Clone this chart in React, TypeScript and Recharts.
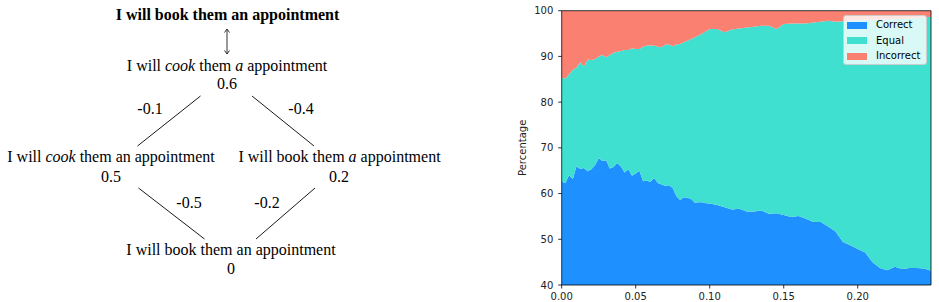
import React from 'react';
import { AreaChart, Area, XAxis, YAxis, ReferenceLine, Legend } from 'recharts';

// ---- chart data ----
const xValues = [
  0, 0.0025, 0.005, 0.0075, 0.01, 0.0125, 0.015, 0.0175, 0.02, 0.0225,
  0.025, 0.0275, 0.03, 0.0325, 0.035, 0.0375, 0.04, 0.0425, 0.045, 0.0475,
  0.05, 0.0525, 0.055, 0.0575, 0.06, 0.0625, 0.065, 0.0675, 0.07, 0.0725,
  0.075, 0.0775, 0.08, 0.0825, 0.085, 0.0875, 0.09, 0.0925, 0.095, 0.0975,
  0.1, 0.105, 0.11, 0.115, 0.12, 0.125, 0.13, 0.135, 0.14, 0.145,
  0.15, 0.155, 0.16, 0.165, 0.17, 0.175, 0.18, 0.185, 0.19, 0.195,
  0.2, 0.205, 0.21, 0.215, 0.22, 0.225, 0.23, 0.235, 0.24, 0.245, 0.2495,
];

// share of "Correct" (%)
const correctValues = [
  62.6, 62.3, 64.0, 63.2, 66.0, 65.4, 65.6, 64.9, 65.3, 66.2,
  67.7, 67.1, 67.3, 65.5, 65.8, 66.7, 65.9, 64.6, 65.3, 63.9,
  64.4, 65.0, 62.7, 62.8, 62.6, 63.4, 62.3, 62.0, 61.7, 61.8,
  61.2, 59.4, 58.6, 59.2, 59.1, 58.8, 58.0, 58.1, 58.1, 57.9,
  57.8, 57.5, 57.0, 56.5, 56.7, 56.1, 56.1, 56.3, 55.6, 55.7,
  55.3, 54.9, 55.1, 54.5, 53.8, 53.8, 52.8, 51.7, 49.4, 48.7,
  47.9, 47.1, 45.0, 43.7, 43.2, 44.0, 43.5, 43.7, 43.7, 43.6, 43.1,
];

// "Correct" + "Equal" (%)
const correctOrEqualValues = [
  85.4, 85.1, 86.1, 87.1, 87.6, 88.7, 87.8, 89.3, 89.2, 89.4,
  90.0, 90.3, 89.8, 90.3, 90.8, 91.0, 91.2, 91.4, 91.4, 91.8,
  91.6, 91.6, 92.1, 92.4, 92.4, 92.4, 92.1, 92.0, 92.6, 92.6,
  92.2, 92.6, 92.7, 93.1, 93.4, 93.8, 94.2, 94.6, 95.0, 95.5,
  96.0, 96.0, 95.3, 95.9, 96.1, 96.3, 96.5, 96.7, 96.7, 96.0,
  97.1, 97.2, 97.2, 97.2, 97.4, 97.6, 97.8, 97.6, 97.7, 97.8,
  97.9, 98.0, 98.0, 98.1, 98.1, 98.2, 98.2, 98.3, 98.4, 98.5, 98.7,
];

const seriesNames = ['Correct', 'Equal', 'Incorrect'];
const seriesKeys = ['correct', 'equal', 'incorrect'];
const seriesColors = ['#1E90FF', '#40E0D0', '#FA8072'];

const xTicks = [0, 0.05, 0.1, 0.15, 0.2];
const yTicks = [40, 50, 60, 70, 80, 90, 100];

// ---- diagram data ----
const topSentence = 'I will book them an appointment';
// [text, italic] segments
const midSentence: [string, boolean][] = [
  ['I will ', false], ['cook', true], [' them ', false], ['a', true], [' appointment', false],
];
const leftSentence: [string, boolean][] = [
  ['I will ', false], ['cook', true], [' them an appointment', false],
];
const rightSentence: [string, boolean][] = [
  ['I will book them ', false], ['a', true], [' appointment', false],
];
const bottomSentence: [string, boolean][] = [['I will book them an appointment', false]];
const nodeScores = ['0.6', '0.5', '0.2', '0'];
const edgeDeltas = ['-0.1', '-0.4', '-0.5', '-0.2'];

const data = xValues.map((x, i) => ({
  x,
  correct: correctValues[i],
  equal: +(correctOrEqualValues[i] - correctValues[i]).toFixed(2),
  incorrect: +(100 - correctOrEqualValues[i]).toFixed(2),
}));

const serif = '"Liberation Serif", "Times New Roman", serif';
const sans = '"DejaVu Sans", sans-serif';

const Sentence = ({ parts, x, y }: { parts: [string, boolean][]; x: number; y: number }) => (
  <text x={x} y={y} textAnchor="middle" fontFamily={serif} fontSize={16} fill="#000" style={{ whiteSpace: 'pre' }}>
    {parts.map(([t, it], i) => (
      <tspan key={i} fontStyle={it ? 'italic' : 'normal'}>{t}</tspan>
    ))}
  </text>
);

const Label = ({ text, x, y }: { text: string; x: number; y: number }) => (
  <text x={x} y={y} textAnchor="middle" fontFamily={serif} fontSize={16} fill="#000">
    {text}
  </text>
);

const Diagram = () => (
  <svg width={480} height={302} style={{ position: 'absolute', left: 0, top: 0 }}>
    <text x={227.5} y={19.5} textAnchor="middle" fontFamily={serif} fontSize={16} fontWeight="bold" fill="#000">
      {topSentence}
    </text>
    {/* double arrow */}
    <g stroke="#333" strokeWidth={1} fill="none">
      <line x1={227} y1={29} x2={227} y2={54} />
      <polyline points="224.5,32.5 227,29 229.5,32.5" />
      <polyline points="224.5,50.5 227,54 229.5,50.5" />
    </g>
    <Sentence parts={midSentence} x={227} y={71} />
    <Label text={nodeScores[0]} x={227} y={89.3} />
    <Label text={edgeDeltas[0]} x={150} y={114.3} />
    <Label text={edgeDeltas[1]} x={301} y={114.3} />
    <g stroke="#000" strokeWidth={0.9}>
      <line x1={200.5} y1={96} x2={137.5} y2={146} />
      <line x1={252} y1={96} x2={314} y2={146} />
      <line x1={138.5} y1={188} x2={204.5} y2={239} />
      <line x1={315} y1={188} x2={256} y2={239} />
    </g>
    <Sentence parts={leftSentence} x={111} y={162.3} />
    <Label text={nodeScores[1]} x={111} y={181.7} />
    <Sentence parts={rightSentence} x={339.5} y={162.3} />
    <Label text={nodeScores[2]} x={339} y={181.7} />
    <Label text={edgeDeltas[2]} x={189} y={207.7} />
    <Label text={edgeDeltas[3]} x={267} y={207.7} />
    <Sentence parts={bottomSentence} x={231} y={255} />
    <Label text={nodeScores[3]} x={231} y={274} />
  </svg>
);

const renderLegend = () => (
  <div
    style={{
      position: 'relative',
      width: 84,
      height: 50,
      boxSizing: 'border-box',
      border: '1px solid #cccccc',
      borderRadius: 3,
      background: 'rgba(255,255,255,0.8)',
      fontFamily: sans,
      fontSize: 10,
      color: '#000',
    }}
  >
    {seriesNames.map((name, i) => (
      <div key={name} style={{ position: 'absolute', left: 0, top: 9 + i * 15.5 - 7, height: 14, width: 84 }}>
        <div style={{ position: 'absolute', left: 3, top: 3.5, width: 20, height: 7, background: seriesColors[i] }} />
        <div style={{ position: 'absolute', left: 32, top: 0, lineHeight: '14px', whiteSpace: 'nowrap' }}>{name}</div>
      </div>
    ))}
  </div>
);

const YLabel = (props: any) => {
  const vb = props.viewBox || { x: 0, y: 0, width: 0, height: 0 };
  const cx = vb.x + 23;
  const cy = vb.y + vb.height / 2;
  return (
    <text x={cx} y={cy} textAnchor="middle" dominantBaseline="central" transform={`rotate(-90, ${cx}, ${cy})`}
      fontFamily={sans} fontSize={10} fill="#222">
      Percentage
    </text>
  );
};

const xMax = xValues[xValues.length - 1];

export default function App() {
  return (
    <div style={{ position: 'absolute', left: 0, top: 0, width: 939, height: 302, background: '#fff' }}>
      <Diagram />
      <div style={{ position: 'absolute', left: 500, top: 0 }}>
        <AreaChart width={439} height={302} data={data} margin={{ top: 10.7, right: 8, left: 0, bottom: 0 }}>
          {seriesKeys.map((k, i) => (
            <Area
              key={k}
              type="linear"
              dataKey={k}
              name={seriesNames[i]}
              stackId="1"
              stroke="none"
              fill={seriesColors[i]}
              fillOpacity={1}
              isAnimationActive={false}
              dot={false}
              activeDot={false}
            />
          ))}
          <XAxis
            dataKey="x"
            type="number"
            domain={[0, xMax]}
            allowDataOverflow
            ticks={xTicks}
            interval={0}
            tickFormatter={(v: number) => v.toFixed(2)}
            height={17}
            tickSize={3.5}
            tickMargin={4}
            axisLine={{ stroke: '#000', strokeWidth: 0.8 }}
            tickLine={{ stroke: '#000', strokeWidth: 0.8 }}
            tick={{ fill: '#222', fontSize: 10, fontFamily: sans }}
          />
          <YAxis
            type="number"
            domain={[40, 100]}
            allowDataOverflow
            ticks={yTicks}
            interval={0}
            width={61.7}
            tickSize={3.5}
            tickMargin={4.9}
            axisLine={{ stroke: '#000', strokeWidth: 0.8 }}
            tickLine={{ stroke: '#000', strokeWidth: 0.8 }}
            tick={{ fill: '#222', fontSize: 10, fontFamily: sans }}
            label={<YLabel />}
          />
          <ReferenceLine y={100} stroke="#000" strokeWidth={0.8} />
          <ReferenceLine x={xMax} stroke="#000" strokeWidth={0.8} />
          <Legend
            layout="vertical"
            align="center"
            verticalAlign="middle"
            content={renderLegend}
            wrapperStyle={{ position: 'absolute', left: 343, top: 15, width: 84, height: 50 }}
          />
        </AreaChart>
      </div>
    </div>
  );
}
